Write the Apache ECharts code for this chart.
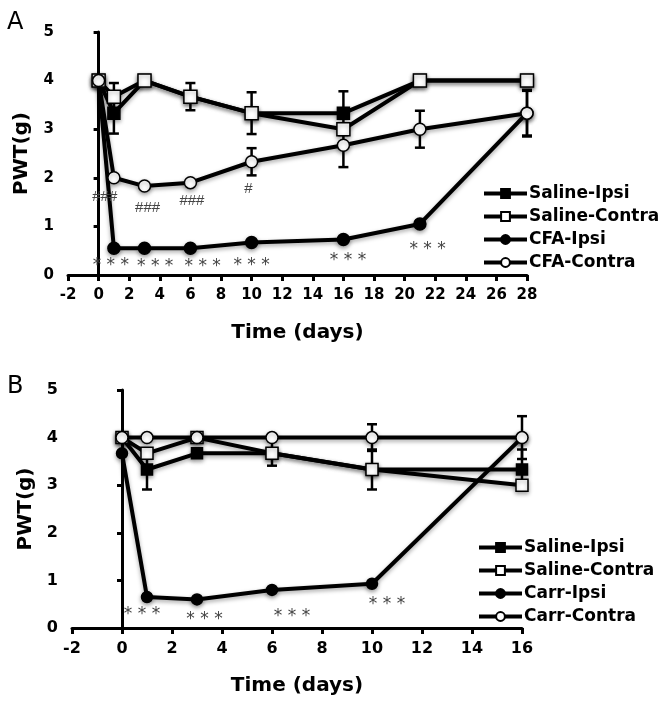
<!DOCTYPE html>
<html>
<head>
<meta charset="utf-8">
<script src="https://cdn.jsdelivr.net/npm/echarts@6/dist/echarts.min.js"></script>
<style>html,body{margin:0;padding:0;background:#fff}#c{width:666px;height:703px}</style>
</head>
<body>
<div id="c"></div>
<script>
// ---- Panel A data ----
const xA = [0, 1, 3, 6, 10, 16, 21, 28];
const salineIpsiA = [4, 3.33, 4, 3.67, 3.33, 3.33, 4, 4];
const salineContraA = [4, 3.67, 4, 3.67, 3.33, 3.0, 4, 4];
const cfaIpsiA = [4, 0.55, 0.55, 0.55, 0.67, 0.73, 1.05, 3.33];
const cfaContraA = [4, 2.0, 1.83, 1.9, 2.33, 2.67, 3.0, 3.33];
const salineIpsiErrA = [0, 0.42, 0, 0, 0, 0.45, 0, 0];
const salineContraErrA = [0, 0.28, 0, 0.28, 0.43, 0, 0, 0];
const cfaIpsiErrA = [0, 0.06, 0, 0, 0, 0, 0.06, 0.48];
const cfaContraErrA = [0, 0, 0.05, 0, 0.28, 0.45, 0.38, 0.46];
const starsA = [[0.8, 0.2], [3.7, 0.17], [6.8, 0.17], [10, 0.2], [16.3, 0.29], [21.5, 0.53]];
const hashesA = [[0.4, 1.6, '###'], [3.2, 1.38, '###'], [6.1, 1.52, '###'], [9.8, 1.77, '#']];
const namesA = ['Saline-Ipsi', 'Saline-Contra', 'CFA-Ipsi', 'CFA-Contra'];

// ---- Panel B data ----
const xB = [0, 1, 3, 6, 10, 16];
const salineIpsiB = [4, 3.33, 3.67, 3.67, 3.33, 3.33];
const salineContraB = [4, 3.67, 4, 3.67, 3.33, 3.0];
const carrIpsiB = [3.67, 0.65, 0.6, 0.8, 0.93, 4];
const carrContraB = [4, 4, 4, 4, 4, 4];
const salineIpsiErrB = [0, 0.42, 0, 0, 0, 0.42];
const salineContraErrB = [0, 0, 0, 0.26, 0.42, 0];
const carrIpsiErrB = [0, 0.05, 0, 0, 0, 0];
const carrContraErrB = [0, 0, 0, 0, 0.28, 0.45];
const starsB = [[0.8, 0.28], [3.3, 0.17], [6.8, 0.25], [10.6, 0.49]];
const namesB = ['Saline-Ipsi', 'Saline-Contra', 'Carr-Ipsi', 'Carr-Contra'];

const xTicksA = { min: -2, max: 28, interval: 2 };
const xTicksB = { min: -2, max: 16, interval: 2 };
const yTicks = { min: 0, max: 5, interval: 1 };

const FONT = 'DejaVu Sans';
const shadow = { shadowBlur: 4, shadowColor: 'rgba(0,0,0,0.35)', shadowOffsetY: 2 };

function pairs(xs, ys) { return xs.map((x, i) => [x, ys[i]]); }

function lineSeries(name, xs, ys, filled, symbol, grid, size) {
  return {
    type: 'line', name, xAxisIndex: grid, yAxisIndex: grid,
    data: pairs(xs, ys), symbol, symbolSize: size, showAllSymbol: true,
    z: filled ? 3 : 4,
    lineStyle: Object.assign({ color: '#000', width: 4 }, shadow),
    itemStyle: Object.assign({ color: filled ? '#000' : '#fff', borderColor: '#000', borderWidth: 1.5 }, shadow),
    emphasis: { disabled: true }
  };
}

function errSeries(xs, ys, es, grid) {
  const d = [];
  xs.forEach((x, i) => { if (es[i] > 0) d.push([x, ys[i] - es[i], ys[i] + es[i]]); });
  return {
    type: 'custom', xAxisIndex: grid, yAxisIndex: grid, z: 2, silent: true,
    data: d,
    renderItem: (params, api) => {
      const lo = api.coord([api.value(0), api.value(1)]);
      const hi = api.coord([api.value(0), api.value(2)]);
      const w = 5;
      const st = { stroke: '#000', lineWidth: 2.5 };
      return { type: 'group', children: [
        { type: 'line', shape: { x1: lo[0], y1: lo[1], x2: hi[0], y2: hi[1] }, style: st },
        { type: 'line', shape: { x1: lo[0] - w, y1: lo[1], x2: lo[0] + w, y2: lo[1] }, style: st },
        { type: 'line', shape: { x1: hi[0] - w, y1: hi[1], x2: hi[0] + w, y2: hi[1] }, style: st }
      ]};
    }
  };
}

function textSeries(items, grid, font, color, defText) {
  return {
    type: 'custom', xAxisIndex: grid, yAxisIndex: grid, z: 5, silent: true,
    data: items.map(it => [it[0], it[1]]),
    renderItem: (params, api) => {
      const p = api.coord([api.value(0), api.value(1)]);
      const it = items[params.dataIndex];
      return { type: 'text', style: { text: it[2] || defText, x: p[0], y: p[1], align: 'center', verticalAlign: 'middle', font, fill: color } };
    }
  };
}

function xAxis(grid, t, fs) {
  return {
    type: 'value', gridIndex: grid, min: t.min, max: t.max, interval: t.interval,
    name: 'Time (days)', nameLocation: 'middle', nameGap: 48,
    nameTextStyle: { fontFamily: FONT, fontWeight: 'bold', fontSize: 20, color: '#000' },
    axisLine: { show: true, onZero: false, lineStyle: { color: '#000', width: 3 } },
    axisTick: { show: true, length: 6, lineStyle: { color: '#000', width: 3 } },
    axisLabel: { fontFamily: FONT, fontWeight: 'bold', fontSize: fs, color: '#000', margin: 13 },
    splitLine: { show: false }
  };
}
function yAxis(grid, fs) {
  return {
    type: 'value', gridIndex: grid, min: yTicks.min, max: yTicks.max, interval: yTicks.interval,
    name: 'PWT(g)', nameLocation: 'middle', nameGap: 36,
    nameTextStyle: { fontFamily: FONT, fontWeight: 'bold', fontSize: 20, color: '#000' },
    axisLine: { show: true, lineStyle: { color: '#000', width: 3 } },
    axisTick: { show: true, length: 5, lineStyle: { color: '#000', width: 3 } },
    axisLabel: { fontFamily: FONT, fontWeight: 'bold', fontSize: fs, color: '#000', margin: 14 },
    splitLine: { show: false }
  };
}
function legend(names, left, top) {
  return {
    data: names, orient: 'vertical', left, top, padding: 0,
    itemWidth: 43, itemHeight: 11, itemGap: 6,
    selectedMode: false,
    lineStyle: { width: 4, color: '#000' },
    textStyle: { fontFamily: FONT, fontWeight: 'bold', fontSize: 17, color: '#000', padding: [0, 0, 0, -3] }
  };
}

const chart = echarts.init(document.getElementById('c'), null, { renderer: 'canvas' });
chart.setOption({
  backgroundColor: '#fff',
  animation: false,
  title: [
    { text: 'A', left: 2, top: 6, textStyle: { fontFamily: FONT, fontWeight: 'normal', fontSize: 24, color: '#000' } },
    { text: 'B', left: 2, top: 370, textStyle: { fontFamily: FONT, fontWeight: 'normal', fontSize: 24, color: '#000' } }
  ],
  grid: [
    { left: 68, top: 32, width: 459, height: 243 },
    { left: 72, top: 390, width: 450, height: 238 }
  ],
  xAxis: [xAxis(0, xTicksA, 15), xAxis(1, xTicksB, 16)],
  yAxis: [yAxis(0, 15), yAxis(1, 16)],
  legend: [legend(namesA, 482, 185), legend(namesB, 477, 539)],
  series: [
    errSeries(xA, salineIpsiA, salineIpsiErrA, 0),
    errSeries(xA, salineContraA, salineContraErrA, 0),
    errSeries(xA, cfaIpsiA, cfaIpsiErrA, 0),
    errSeries(xA, cfaContraA, cfaContraErrA, 0),
    lineSeries('Saline-Ipsi', xA, salineIpsiA, true, 'rect', 0, 12),
    lineSeries('Saline-Contra', xA, salineContraA, false, 'rect', 0, 13),
    lineSeries('CFA-Ipsi', xA, cfaIpsiA, true, 'circle', 0, 12),
    lineSeries('CFA-Contra', xA, cfaContraA, false, 'circle', 0, 12),
    textSeries(starsA, 0, '17px "DejaVu Sans"', '#444', '* * *'),
    textSeries(hashesA, 0, '15px "Liberation Sans"', '#444', '###'),

    errSeries(xB, salineIpsiB, salineIpsiErrB, 1),
    errSeries(xB, salineContraB, salineContraErrB, 1),
    errSeries(xB, carrIpsiB, carrIpsiErrB, 1),
    errSeries(xB, carrContraB, carrContraErrB, 1),
    lineSeries('Saline-Ipsi', xB, salineIpsiB, true, 'rect', 1, 11),
    lineSeries('Saline-Contra', xB, salineContraB, false, 'rect', 1, 12),
    lineSeries('Carr-Ipsi', xB, carrIpsiB, true, 'circle', 1, 11),
    lineSeries('Carr-Contra', xB, carrContraB, false, 'circle', 1, 12),
    textSeries(starsB, 1, '17px "DejaVu Sans"', '#444', '* * *')
  ]
});
</script>
</body>
</html>
